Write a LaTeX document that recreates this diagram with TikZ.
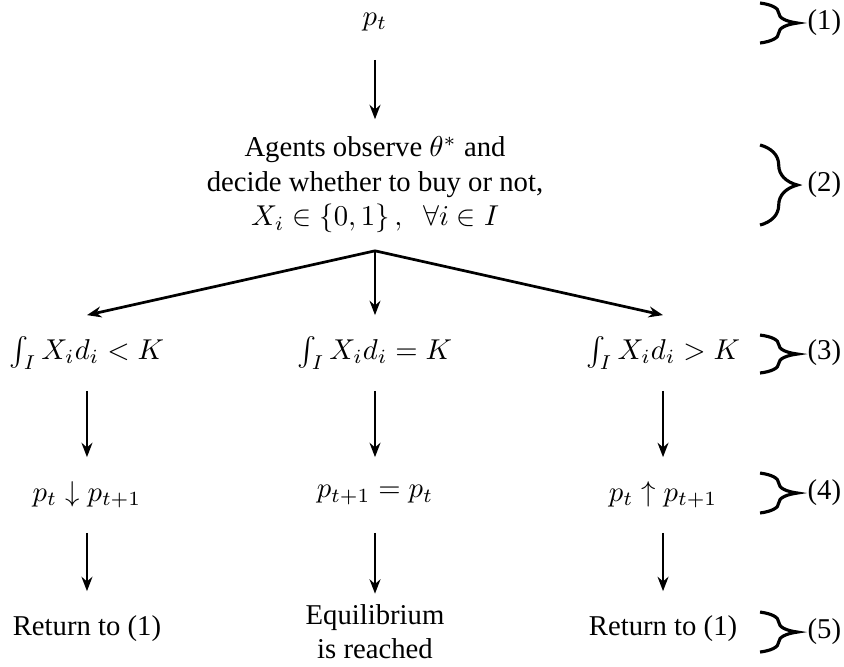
\documentclass[tikz,border=0pt]{standalone}
\usepackage{fontspec}
\setmainfont{Liberation Serif}
\usetikzlibrary{arrows.meta,decorations.pathreplacing}
\tikzset{
  box/.style={inner sep=0pt, minimum height=26pt, align=center},
  arr/.style={-{Stealth[length=5pt,width=3.8pt]}, line width=0.95pt},
  brc/.style={decorate, decoration={brace,amplitude=13pt}, line width=1.1pt},
  lab/.style={anchor=west, inner sep=0pt}
}
\begin{document}
\begin{tikzpicture}
	\useasboundingbox (0,0) rectangle (10.335,8.156);
	% steps of the process
	\node[box] (pt) at (4.592,7.886) {$p_t$};
	\node[box, inner ysep=6pt] (agents) at (4.592,5.890) {Agents observe $\theta^{*}$ and\\ decide whether to buy or not,\\ $X_i \in \{0,1\}\,,\;\;\forall i \in I$};
	\node[box] (l3) at (1.065,3.833) {$\int_I X_i d_i < K$};
	\node[box] (m3) at (4.592,3.833) {$\int_I X_i d_i = K$};
	\node[box] (r3) at (8.119,3.833) {$\int_I X_i d_i > K$};
	\node[box] (l4) at (1.065,2.094) {$p_t \downarrow p_{t+1}$};
	\node[box] (m4) at (4.592,2.094) {$p_{t+1} = p_t$};
	\node[box] (r4) at (8.119,2.094) {$p_t \uparrow p_{t+1}$};
	\node[box] (l5) at (1.065,0.453) {Return to (1)};
	\node[box] (m5) at (4.592,0.422) {Equilibrium\\ is reached};
	\node[box] (r5) at (8.119,0.453) {Return to (1)};
	% arrows
	\draw[arr] (pt) -- (agents);
	\draw[arr] (agents.south) -- (l3.north);
	\draw[arr] (agents.south) -- (m3.north);
	\draw[arr] (agents.south) -- (r3.north);
	\foreach \c in {l,m,r} {
		\draw[arr] (\c3) -- (\c4);
		\draw[arr] (\c4) -- (\c5);
	}
	% braces on the right
	\draw[brc] (9.307,8.119) -- (9.307,7.629);
	\draw[brc] (9.307,6.380) -- (9.307,5.400);
	\draw[brc] (9.307,4.053) -- (9.307,3.588);
	\draw[brc] (9.307,2.363) -- (9.307,1.874);
	\draw[brc] (9.307,0.661) -- (9.307,0.171);
	\node[lab] (s1) at (9.882,7.874) {(1)};
	\node[lab] (s2) at (9.882,5.890) {(2)};
	\node[lab] (s3) at (9.882,3.833) {(3)};
	\node[lab] (s4) at (9.882,2.119) {(4)};
	\node[lab] (s5) at (9.882,0.416) {(5)};
\end{tikzpicture}
\end{document}
